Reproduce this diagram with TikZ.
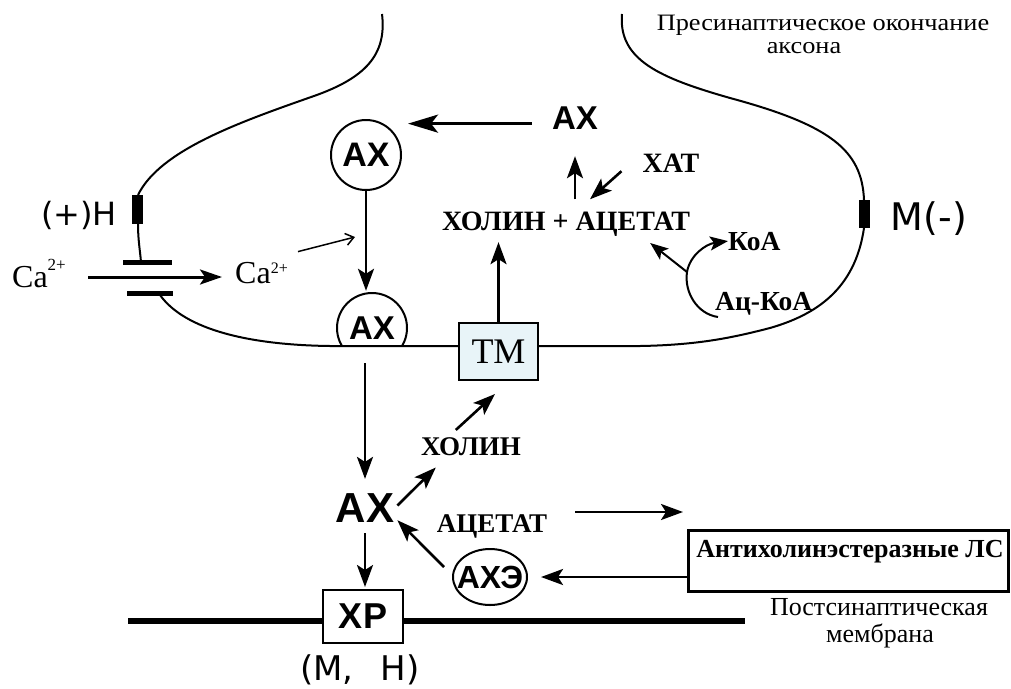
\documentclass[tikz,border=0pt]{standalone}
\usepackage{fontspec}
\setmainfont{Liberation Serif}
\newfontfamily\sansf{Liberation Sans}
\newfontfamily\dvsans{DejaVu Sans}
\newfontfamily\widerm[FakeStretch=1.12]{Liberation Serif}
\usetikzlibrary{arrows.meta,calc,shapes.geometric}
\newcommand\fsz[1]{\fontsize{#1pt}{#1pt}\selectfont}
\definecolor{tmfill}{RGB}{232,244,248}

\begin{document}
\begin{tikzpicture}[x=1pt,y=-1pt,
  txt/.style={inner sep=0pt, anchor=base},
  rm/.style={txt, font=\fsz{#1}},
  rmw/.style={txt, font=\widerm\fsz{#1}},
  rmb/.style={txt, font=\bfseries\fsz{#1}},
  sf/.style={txt, font=\dvsans\fsz{#1}},
  sfb/.style={txt, font=\sansf\bfseries\fsz{#1}},
  memb/.style={line width=2pt},
  plate/.style={line width=5pt},
  arr/.style={line width=2.6pt, -{Stealth[length=22pt,width=16pt,inset=5pt]}},
  bigarr/.style={line width=3pt, -{Stealth[length=30pt,width=18pt,inset=7pt]}},
  caarr/.style={line width=3pt, -{Stealth[length=22pt,width=15pt,inset=5pt]}},
  thinarr/.style={line width=2pt, -{Stealth[length=18pt,width=14pt,inset=4pt]}},
  openarr/.style={line width=1.5pt, -{Straight Barb[length=8pt,width=12pt]}},
]
\fill[white] (0,0) rectangle (1011,688);
\useasboundingbox (0,0) rectangle (1011,688);

% titles
\node[rmw=23.5] (pre1) at (823,30) {Пресинаптическое окончание};
\node[rmw=23.5] (pre2) at (804,53) {аксона};
\node[rm=26] (post1) at (879,615) {Постсинаптическая};
\node[rm=26] (post2) at (880,642) {мембрана};

% presynaptic terminal: labels and vesicles
\node[sfb=33] (axTop) at (575,129) {АХ};
\node[circle,draw,line width=2pt,minimum size=70pt,inner sep=0pt,
      font=\sansf\bfseries\fsz{34}] (ax1) at (366,155) {АХ};
\node[circle,minimum size=70pt,inner sep=0pt,
      font=\sansf\bfseries\fsz{33}] (ax2) at (372,328) {АХ};
\node[rmb=28] (hol) at (566,230) {ХОЛИН + АЦЕТАТ};
\node[rmb=28] (hat) at (671,172) {ХАТ};
\node[rmb=27.5, anchor=base west] (koa) at (728,250) {КоА};
\node[rmb=27.5, anchor=base west] (acoa) at (715,310) {Ац-КоА};
\node[sf=32] (hplus) at (79,225) {(+)Н};
\node[sf=38] (mminus) at (929,230) {М(-)};
\node[rm=32, anchor=base west] (caL) at (12,287) {Ca\raisebox{17pt}{\fsz{17}2+}};
\node[rm=32, anchor=base west] (caR) at (235,283) {Ca\raisebox{10pt}{\fsz{16}2+}};
\node[draw,line width=2pt,fill=tmfill,minimum width=79pt,minimum height=57pt,
      inner sep=0pt,font=\fsz{36}] (tm) at (498.5,351.5) {ТМ};

% synaptic cleft
\node[rmb=27] (holLow) at (471,455) {ХОЛИН};
\node[sfb=42] (axLow) at (365,522) {АХ};
\node[rmb=27] (acetLow) at (492,532) {АЦЕТАТ};
\node[ellipse,draw,line width=2pt,minimum width=74pt,minimum height=56pt,
      inner sep=0pt] (ache) at (490,577) {};
\node[sfb=32] (acheTxt) at (490,588) {АХЭ};
\node[draw,line width=3pt,minimum width=320pt,minimum height=61pt] (lsbox) at (848,561) {};
\node[rmb=26] (lstxt) at (850,557) {Антихолинэстеразные ЛС};

% postsynaptic membrane with the receptor
\draw[line width=6pt] (128,621) -- (745,621);
\node[draw,fill=white,line width=2pt,minimum width=80pt,minimum height=53pt,
      inner sep=0pt,font=\sansf\bfseries\fsz{36}] (xp) at (363,616.5) {ХР};
\node[sf=34] (mh) at (360,680) {(М,\hspace{27pt}Н)};

% outline of the axon terminal
\draw[memb] (382,14) .. controls (387,55) and (365,78) .. (314,96)
  .. controls (240,122) and (160,150) .. (138,195);
\fill (132,195) rectangle (143,224);
\draw[memb] (138,224) .. controls (138,240) and (140,250) .. (141,262);
\draw[plate] (123,262) -- (172,262);
\draw[plate] (127,293) -- (173,293);
\draw[memb] (160,295) .. controls (185,330) and (250,345) .. (330,346)
  -- ([yshift=5.5pt]tm.west);
\draw[memb] ([yshift=5.5pt]tm.east) -- (640,346)
  .. controls (700,345) and (735,337) .. (770,328)
  .. controls (815,315) and (855,290) .. (864,228);
\fill (859,200) rectangle (870,228);
\draw[memb] (864,200) .. controls (862,150) and (830,125) .. (730,98)
  .. controls (660,78) and (618,60) .. (622,14);
% vesicle fused with the membrane
\begin{scope}
  \clip (320,280) rectangle (430,345);
  \draw[memb] (ax2.center) circle[radius=35pt];
\end{scope}

% calcium entry
\draw[caarr, shorten <=22pt, shorten >=13pt]
  ($(caL.base east)+(0,-10)$) -- ($(caR.base west)+(0,-6)$);
\coordinate (caTip) at (355,237);
\draw[openarr] ($(caR.north east)+(10,-10)$) -- (caTip);

% synthesis and release
\draw[bigarr, shorten <=20pt, shorten >=6pt]
  ($(axTop.west)+(0,6)$) -- ($(axTop.west -| ax1.east)+(0,6)$);
\draw[arr, shorten >=2pt] (ax1.south) -- (ax1.south |- ax2.north);
\draw[arr, shorten >=14pt] (axLow.north |- ax2.south) -- (axLow.north);
\draw[arr, shorten <=12pt, shorten >=27pt] (axTop.south |- hol.north) -- (axTop.south);
\draw[arr] ($(hat.south west)+(-21,-1)$) -- ($(hol.north)+(24,-12)$);
\draw[arr, shorten >=6pt] (tm.north) -- (tm.north |- hol.south);
\coordinate (branch) at (687,272);
\draw[thinarr] ($(acoa.base west)+(3,7)$) .. controls (697,314) and (684,292) .. (branch)
  .. controls (690,255) and (706,244) .. (koa.west);
\draw[thinarr] (branch) -- ($(hol.base east)+(-40,13)$);

% cleft reactions
\draw[arr, shorten <=11pt, shorten >=2pt] (axLow.south) -- (axLow.south |- xp.north);
\draw[arr] ($(axLow.east)+(3,-2)$) -- ($(holLow.south west)+(15,12)$);
\draw[arr] ($(holLow.north west)+(35,-7)$) -- ($(tm.south)+(-3.5,13)$);
\coordinate (acetOut) at (683,512);
\draw[arr, shorten <=28pt] (acetLow.east |- acetOut) -- (acetOut);
\draw[arr] ($(ache.west)+(-8,-10)$) -- ($(axLow.south east)+(3,-2)$);
\draw[arr, shorten >=13pt] (lsbox.west |- ache.east) -- (ache.east);
\end{tikzpicture}
\end{document}
